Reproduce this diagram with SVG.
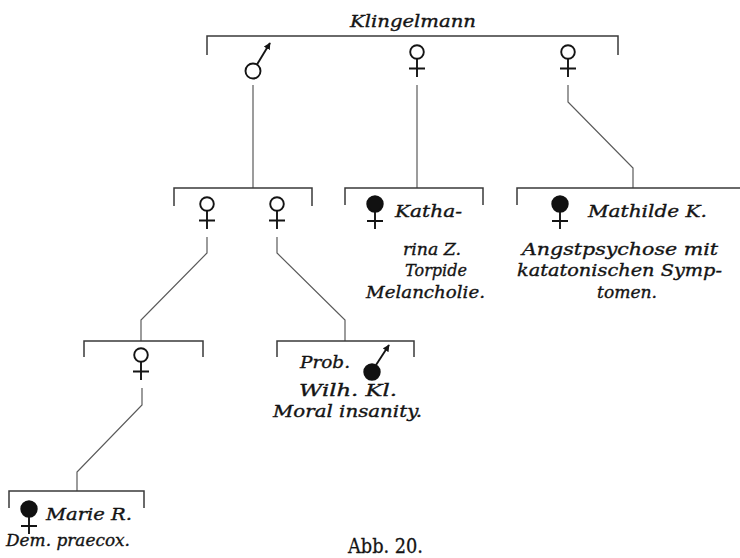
<svg xmlns="http://www.w3.org/2000/svg" width="740" height="558" viewBox="0 0 740 558">
  <style>
    .lbl { font-family: "DejaVu Serif", "Liberation Serif", serif; font-style: italic; font-size: 17px; fill: #141414; stroke: #141414; stroke-width: 0.35; }
    .cap { font-family: "DejaVu Serif", "Liberation Serif", serif; font-size: 20px; fill: #141414; stroke: #141414; stroke-width: 0.3; }
    .bracket { fill: none; stroke: #3a3a3a; stroke-width: 1.5; }
    .link { fill: none; stroke: #5a5a5a; stroke-width: 1.2; }
    .sym { fill: none; stroke: #141414; stroke-width: 1.9; }
    .sym-filled { fill: #111; stroke: #111; stroke-width: 1.8; }
  </style>
  <defs>
    <marker id="arrow" viewBox="0 0 10 10" refX="9" refY="5" markerWidth="7" markerHeight="7" orient="auto" markerUnits="userSpaceOnUse">
      <path d="M0,0 L10,5 L0,10 Z" fill="#141414"/>
    </marker>
    <!-- healthy female -->
    <g id="female">
      <circle class="sym" cx="0" cy="0" r="6.8"/>
      <path class="sym" d="M0,6.8 V25 M-8,16.5 H8"/>
    </g>
    <!-- affected female -->
    <g id="female-filled">
      <circle class="sym-filled" cx="0" cy="0" r="7.8"/>
      <path class="sym" d="M0,7.8 V25 M-8,17 H8"/>
    </g>
  </defs>

  <!-- brackets and descent lines -->
  <g id="connectors">
    <!-- sibship of the founding family -->
    <path class="bracket" d="M207,55 V36 H618 V55"/>
    <!-- children of the son -->
    <path class="link" d="M253,85 V188"/>
    <path class="bracket" d="M174,206 V188 H312 V206"/>
    <!-- child of the middle daughter -->
    <path class="link" d="M417,85 V188"/>
    <path class="bracket" d="M345,205 V188 H483 V205"/>
    <!-- child of the right daughter -->
    <path class="link" d="M568,85 V102 L633,168 V188"/>
    <path class="bracket" d="M517,205 V188 H740"/>
    <!-- grandchildren -->
    <path class="link" d="M207,237 V253 L141,320 V341"/>
    <path class="bracket" d="M84,357 V341 H203 V357"/>
    <path class="link" d="M277,237 V253 L345,320 V341"/>
    <path class="bracket" d="M277,357 V341 H414 V357"/>
    <!-- great-grandchild -->
    <path class="link" d="M142,388 V405 L77,472 V491"/>
    <path class="bracket" d="M9,508 V491 H144 V508"/>
  </g>

  <g id="family-name">
    <text class="lbl" x="350" y="27" textLength="126" lengthAdjust="spacingAndGlyphs">Klingelmann</text>
  </g>

  <g id="son">
    <circle class="sym" cx="253" cy="71" r="7.5"/>
    <line class="sym" x1="257" y1="64.5" x2="270" y2="43" marker-end="url(#arrow)"/>
  </g>
  <g id="daughter-middle">
    <use href="#female" x="417" y="52"/>
  </g>
  <g id="daughter-right">
    <use href="#female" x="568" y="52"/>
  </g>

  <g id="granddaughter-1">
    <use href="#female" x="207" y="204"/>
  </g>
  <g id="granddaughter-2">
    <use href="#female" x="277" y="204"/>
  </g>

  <g id="katharina">
    <use href="#female-filled" x="375" y="204"/>
    <text class="lbl" x="395" y="217" textLength="67" lengthAdjust="spacingAndGlyphs">Katha-</text>
    <text class="lbl" x="403" y="255" textLength="58" lengthAdjust="spacingAndGlyphs">rina Z.</text>
    <text class="lbl" x="405" y="276" textLength="62" lengthAdjust="spacingAndGlyphs">Torpide</text>
    <text class="lbl" x="366" y="298" textLength="119" lengthAdjust="spacingAndGlyphs">Melancholie.</text>
  </g>

  <g id="mathilde">
    <use href="#female-filled" x="560" y="204"/>
    <text class="lbl" x="588" y="217" textLength="119" lengthAdjust="spacingAndGlyphs">Mathilde K.</text>
    <text class="lbl" x="522" y="255" textLength="196" lengthAdjust="spacingAndGlyphs">Angstpsychose mit</text>
    <text class="lbl" x="517" y="276" textLength="205" lengthAdjust="spacingAndGlyphs">katatonischen Symp-</text>
    <text class="lbl" x="597" y="298" textLength="60" lengthAdjust="spacingAndGlyphs">tomen.</text>
  </g>

  <g id="great-granddaughter">
    <use href="#female" x="141" y="355"/>
  </g>

  <g id="wilhelm">
    <text class="lbl" x="300" y="368" textLength="50" lengthAdjust="spacingAndGlyphs">Prob.</text>
    <circle class="sym-filled" cx="372" cy="372" r="7.8"/>
    <line class="sym" x1="376" y1="365" x2="389" y2="345" marker-end="url(#arrow)"/>
    <text class="lbl" x="299" y="396" textLength="98" lengthAdjust="spacingAndGlyphs">Wilh. Kl.</text>
    <text class="lbl" x="273" y="417" textLength="149" lengthAdjust="spacingAndGlyphs">Moral insanity.</text>
  </g>

  <g id="marie">
    <use href="#female-filled" x="29" y="509"/>
    <text class="lbl" x="46" y="520" textLength="86" lengthAdjust="spacingAndGlyphs">Marie R.</text>
    <text class="lbl" x="6" y="546" textLength="124" lengthAdjust="spacingAndGlyphs">Dem. praecox.</text>
  </g>

  <g id="caption">
    <text class="cap" x="348" y="553" textLength="75" lengthAdjust="spacingAndGlyphs">Abb. 20.</text>
  </g>
</svg>
